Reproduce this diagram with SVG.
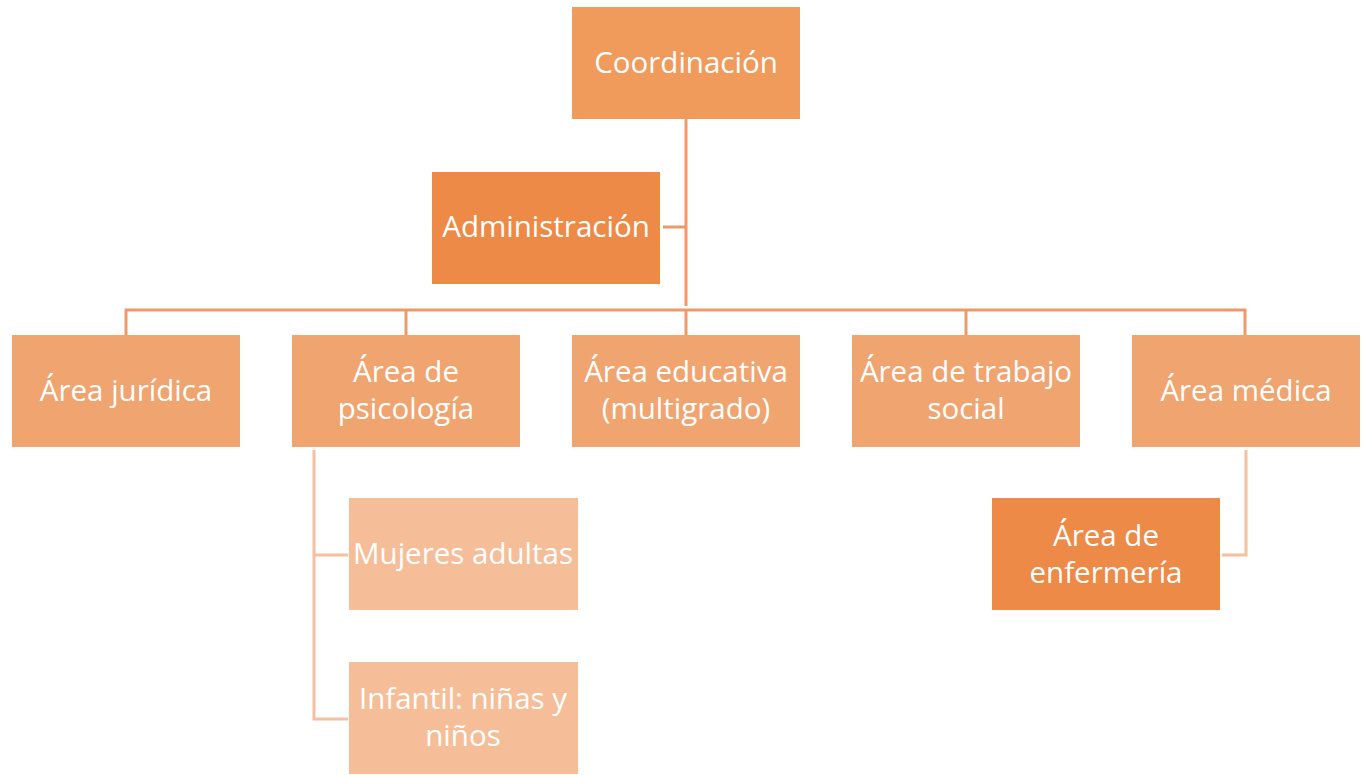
<svg xmlns="http://www.w3.org/2000/svg" width="1364" height="775" viewBox="0 0 1364 775">
<style>
.t{font-family:"Open Sans","Liberation Sans",sans-serif;font-size:29.5px;fill:#FFFFFF;text-anchor:middle}
.l1{stroke:#EE9A68;stroke-width:3;fill:none}
.l2{stroke:#F5BFA0;stroke-width:3;fill:none}
</style>
<rect width="1364" height="775" fill="#FFFFFF"/>
<g id="connectors">
<path class="l1" d="M686 119V306M663 227H686M126 335V310H1245V335M406 310V335M686 310V335M966 310V335"/>
<path class="l2" d="M314 450V719H348M314 555H348M1246 450V555H1222"/>
</g>
<g id="coordinacion"><rect x="572" y="7" width="228" height="112" fill="#F09A5C"/><text class="t" x="686" y="73">Coordinación</text></g>
<g id="administracion"><rect x="432" y="172" width="228" height="112" fill="#ED8A47"/><text class="t" x="546" y="237">Administración</text></g>
<g id="juridica"><rect x="12" y="335" width="228" height="112" fill="#F0A470"/><text class="t" x="126" y="401">Área jurídica</text></g>
<g id="psicologia"><rect x="292" y="335" width="228" height="112" fill="#F0A470"/><text class="t" x="406" y="382">Área de</text><text class="t" x="406" y="419">psicología</text></g>
<g id="educativa"><rect x="572" y="335" width="228" height="112" fill="#F0A470"/><text class="t" x="686" y="382">Área educativa</text><text class="t" x="686" y="419">(multigrado)</text></g>
<g id="trabajo-social"><rect x="852" y="335" width="228" height="112" fill="#F0A470"/><text class="t" x="966" y="382">Área de trabajo</text><text class="t" x="966" y="419">social</text></g>
<g id="medica"><rect x="1132" y="335" width="228" height="112" fill="#F0A470"/><text class="t" x="1246" y="401">Área médica</text></g>
<g id="mujeres"><rect x="349" y="498" width="229" height="112" fill="#F5BE98"/><text class="t" x="463" y="564">Mujeres adultas</text></g>
<g id="infantil"><rect x="349" y="662" width="229" height="112" fill="#F5BE98"/><text class="t" x="463" y="709">Infantil: niñas y</text><text class="t" x="463" y="746">niños</text></g>
<g id="enfermeria"><rect x="992" y="498" width="228" height="112" fill="#ED8A47"/><text class="t" x="1106" y="546">Área de</text><text class="t" x="1106" y="583">enfermería</text></g>
</svg>
